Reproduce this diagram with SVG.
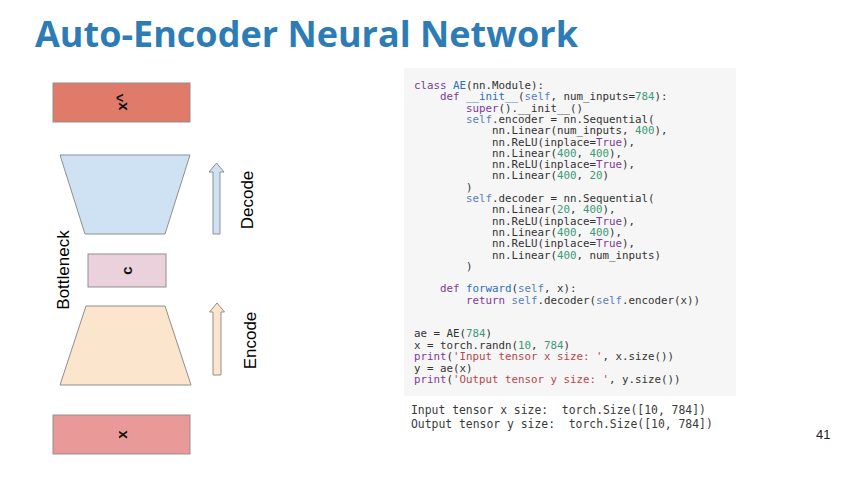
<svg xmlns="http://www.w3.org/2000/svg" width="855" height="480" viewBox="0 0 855 480">
<style>
.sh{stroke:#8f8f8f;stroke-width:1}
.lbl{font-family:"Liberation Sans",Arial,sans-serif;font-size:17px;fill:#000}
.var{font-family:"Liberation Sans",Arial,sans-serif;font-size:15px;font-weight:bold;fill:#111}
.code{font-family:"DejaVu Sans Mono",monospace;font-size:10.8px;fill:#333;white-space:pre}
.out{font-family:"DejaVu Sans Mono",monospace;font-size:11.4px;fill:#3a3a3a;white-space:pre}
.k{fill:#7d3c98}
.n{fill:#2a6fb8}
.s{fill:#5b7fb8}
.d{fill:#3c9a78}
.t{fill:#b8464b}
</style>
<rect width="855" height="480" fill="#ffffff"/>
<text x="35" y="47" font-family="'Open Sans',Lato,sans-serif" font-weight="bold" font-size="36" fill="#2e7cb5" textLength="543" lengthAdjust="spacingAndGlyphs">Auto-Encoder Neural Network</text>

<g id="xhat">
<rect class="sh" x="53" y="83" width="137" height="39" fill="#e07b6a"/>
<text class="var" transform="translate(127,102) rotate(-90)" text-anchor="middle">x^</text>
</g>
<g id="decoder">
<polygon class="sh" points="60,155 190,155 165,234 85,234" fill="#cfe2f3"/>
</g>
<g id="bottleneck">
<rect class="sh" x="88" y="254" width="78" height="33" fill="#ead1dc"/>
<text class="var" transform="translate(132,270.5) rotate(-90)" text-anchor="middle">c</text>
<text class="lbl" transform="translate(69,270) rotate(-90)" text-anchor="middle" font-size="16">Bottleneck</text>
</g>
<g id="encoder">
<polygon class="sh" points="86,306 165,306 191,385 60,385" fill="#fce5cd"/>
</g>
<g id="x">
<rect class="sh" x="53" y="415" width="137" height="39" fill="#ea9999"/>
<text class="var" transform="translate(127,434.5) rotate(-90)" text-anchor="middle">x</text>
</g>

<g id="connectors">
<polygon class="sh" points="216.5,163 224,172 220,172 220,234 213,234 213,172 209,172" fill="#cfe2f3"/>
<polygon class="sh" points="217,303 224.5,312 221,312 221,375 213,375 213,312 209.5,312" fill="#fce5cd"/>
</g>
<g id="labels">
<text class="lbl" transform="translate(253,200) rotate(-90)" text-anchor="middle">Decode</text>
<text class="lbl" transform="translate(256,340.5) rotate(-90)" text-anchor="middle">Encode</text>
</g>

<g id="code">
<rect x="404" y="68" width="332" height="328" fill="#f6f6f6"/>
<g class="code">
<text x="414" y="89" xml:space="preserve"><tspan class="k">class</tspan> <tspan class="n">AE</tspan>(nn.Module):</text>
<text x="440" y="100.3" xml:space="preserve"><tspan class="k">def</tspan> <tspan class="n">__init__</tspan>(<tspan class="s">self</tspan>, num_inputs=<tspan class="d">784</tspan>):</text>
<text x="466" y="111.6"><tspan class="k">super</tspan>().__init__()</text>
<text x="466" y="122.9" xml:space="preserve"><tspan class="s">self</tspan>.encoder = nn.Sequential(</text>
<text x="492" y="134.2" xml:space="preserve">nn.Linear(num_inputs, <tspan class="d">400</tspan>),</text>
<text x="492" y="145.5">nn.ReLU(inplace=<tspan class="k">True</tspan>),</text>
<text x="492" y="156.8" xml:space="preserve">nn.Linear(<tspan class="d">400</tspan>, <tspan class="d">400</tspan>),</text>
<text x="492" y="168.1">nn.ReLU(inplace=<tspan class="k">True</tspan>),</text>
<text x="492" y="179.4" xml:space="preserve">nn.Linear(<tspan class="d">400</tspan>, <tspan class="d">20</tspan>)</text>
<text x="466" y="190.7">)</text>
<text x="466" y="202" xml:space="preserve"><tspan class="s">self</tspan>.decoder = nn.Sequential(</text>
<text x="492" y="213.3" xml:space="preserve">nn.Linear(<tspan class="d">20</tspan>, <tspan class="d">400</tspan>),</text>
<text x="492" y="224.6">nn.ReLU(inplace=<tspan class="k">True</tspan>),</text>
<text x="492" y="235.9" xml:space="preserve">nn.Linear(<tspan class="d">400</tspan>, <tspan class="d">400</tspan>),</text>
<text x="492" y="247.2">nn.ReLU(inplace=<tspan class="k">True</tspan>),</text>
<text x="492" y="258.5" xml:space="preserve">nn.Linear(<tspan class="d">400</tspan>, num_inputs)</text>
<text x="466" y="269.8">)</text>
<text x="440" y="292.4" xml:space="preserve"><tspan class="k">def</tspan> <tspan class="n">forward</tspan>(<tspan class="s">self</tspan>, x):</text>
<text x="466" y="303.7" xml:space="preserve"><tspan class="k">return</tspan> <tspan class="s">self</tspan>.decoder(<tspan class="s">self</tspan>.encoder(x))</text>
<text x="414" y="337">ae = AE(<tspan class="d">784</tspan>)</text>
<text x="414" y="348.5" xml:space="preserve">x = torch.randn(<tspan class="d">10</tspan>, <tspan class="d">784</tspan>)</text>
<text x="414" y="360" xml:space="preserve"><tspan class="k">print</tspan>(<tspan class="t">'Input tensor x size: '</tspan>, x.size())</text>
<text x="414" y="371.5">y = ae(x)</text>
<text x="414" y="383" xml:space="preserve"><tspan class="k">print</tspan>(<tspan class="t">'Output tensor y size: '</tspan>, y.size())</text>
</g>
<g class="out">
<text x="411" y="414" xml:space="preserve">Input tensor x size:  torch.Size([10, 784])</text>
<text x="411" y="428" xml:space="preserve">Output tensor y size:  torch.Size([10, 784])</text>
</g>
</g>
<text x="816" y="439" font-family="'Liberation Sans',Arial,sans-serif" font-size="13" fill="#222">41</text>
</svg>
